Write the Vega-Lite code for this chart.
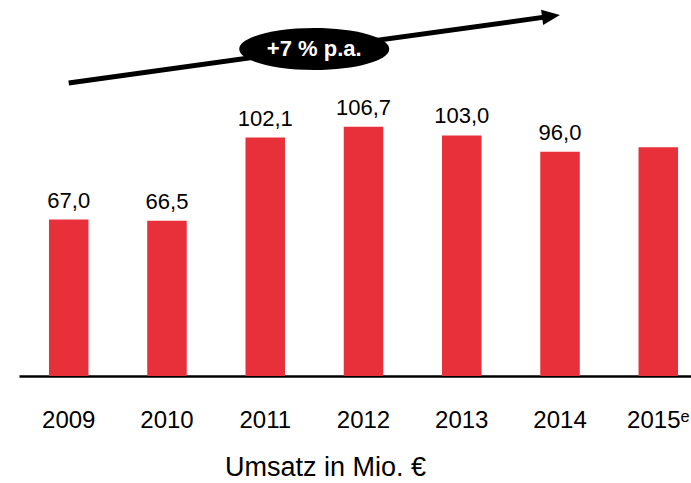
{
  "$schema": "https://vega.github.io/schema/vega-lite/v6.json",
  "width": 689,
  "height": 376,
  "autosize": {"type": "none"},
  "padding": {"left": 19, "top": 0, "right": 0, "bottom": 107},
  "background": "white",
  "config": {
    "view": {"stroke": null},
    "font": "Liberation Sans",
    "locale": {"number": {"decimal": ",", "thousands": ".", "grouping": [3], "currency": ["", " €"]}}
  },
  "data": {
    "values": [
      {"year": "2009", "umsatz": 67.0},
      {"year": "2010", "umsatz": 66.5},
      {"year": "2011", "umsatz": 102.1},
      {"year": "2012", "umsatz": 106.7},
      {"year": "2013", "umsatz": 103.0},
      {"year": "2014", "umsatz": 96.0},
      {"year": "2015e", "umsatz": 98.0}
    ]
  },
  "encoding": {
    "x": {
      "field": "year",
      "type": "nominal",
      "sort": null,
      "scale": {"paddingInner": 0.598, "paddingOuter": 0.305},
      "axis": {
        "title": "Umsatz in Mio. €",
        "titleFontSize": 27,
        "titleFontWeight": "normal",
        "titleColor": "black",
        "titleX": 306,
        "titleY": 99,
        "titleAlign": "center",
        "titleBaseline": "alphabetic",
        "labelAngle": 0,
        "labelFontSize": 24,
        "labelColor": "black",
        "labelBaseline": "alphabetic",
        "labelPadding": 51,
        "labelExpr": "datum.value == '2015e' ? '2015ᵉ' : datum.value",
        "ticks": false,
        "domainColor": "black",
        "domainWidth": 2.5,
        "grid": false
      }
    }
  },
  "layer": [
    {
      "mark": {"type": "bar", "color": "#e8303a"},
      "encoding": {
        "y": {"field": "umsatz", "type": "quantitative", "scale": {"domain": [0, 161], "nice": false}, "axis": null}
      }
    },
    {
      "transform": [{"filter": "datum.year != '2015e'"}],
      "mark": {"type": "text", "fontSize": 22, "dy": -12, "baseline": "alphabetic", "color": "black"},
      "encoding": {
        "y": {"field": "umsatz", "type": "quantitative", "scale": {"domain": [0, 161], "nice": false}},
        "text": {"field": "umsatz", "type": "quantitative", "format": ".1f"}
      }
    },
    {
      "data": {"values": [{"from": "2009", "to": "2014", "y0": 125.5, "y1": 154.6}]},
      "mark": {"type": "rule", "strokeWidth": 5, "color": "black", "x2Offset": -12, "y2Offset": 1.7},
      "encoding": {
        "x": {"field": "from", "type": "nominal"},
        "x2": {"field": "to"},
        "y": {"field": "y0", "type": "quantitative", "scale": {"domain": [0, 161], "nice": false}},
        "y2": {"field": "y1"}
      }
    },
    {
      "data": {"values": [{"at": "2014", "y": 154.6}]},
      "mark": {"type": "point", "filled": true, "color": "black", "opacity": 1, "shape": "M -1,-0.85 L 1,0 L -1,0.85 Z", "size": 324, "angle": 352.1, "xOffset": -9, "yOffset": 1.2},
      "encoding": {
        "x": {"field": "at", "type": "nominal"},
        "y": {"field": "y", "type": "quantitative", "scale": {"domain": [0, 161], "nice": false}}
      }
    },
    {
      "data": {"values": [{"at": "2011", "y": 140, "txt": "+7 % p.a."}]},
      "mark": {"type": "point", "filled": true, "color": "black", "opacity": 1, "shape": "M -1,0 A 1,0.28 0 1,1 1,0 A 1,0.28 0 1,1 -1,0 Z", "size": 22500, "xOffset": 49},
      "encoding": {
        "x": {"field": "at", "type": "nominal"},
        "y": {"field": "y", "type": "quantitative", "scale": {"domain": [0, 161], "nice": false}}
      }
    },
    {
      "data": {"values": [{"at": "2011", "y": 140, "txt": "+7 % p.a."}]},
      "mark": {"type": "text", "color": "white", "fontWeight": "bold", "fontSize": 22, "xOffset": 49, "baseline": "middle", "align": "center"},
      "encoding": {
        "x": {"field": "at", "type": "nominal"},
        "y": {"field": "y", "type": "quantitative", "scale": {"domain": [0, 161], "nice": false}},
        "text": {"field": "txt"}
      }
    }
  ]
}
